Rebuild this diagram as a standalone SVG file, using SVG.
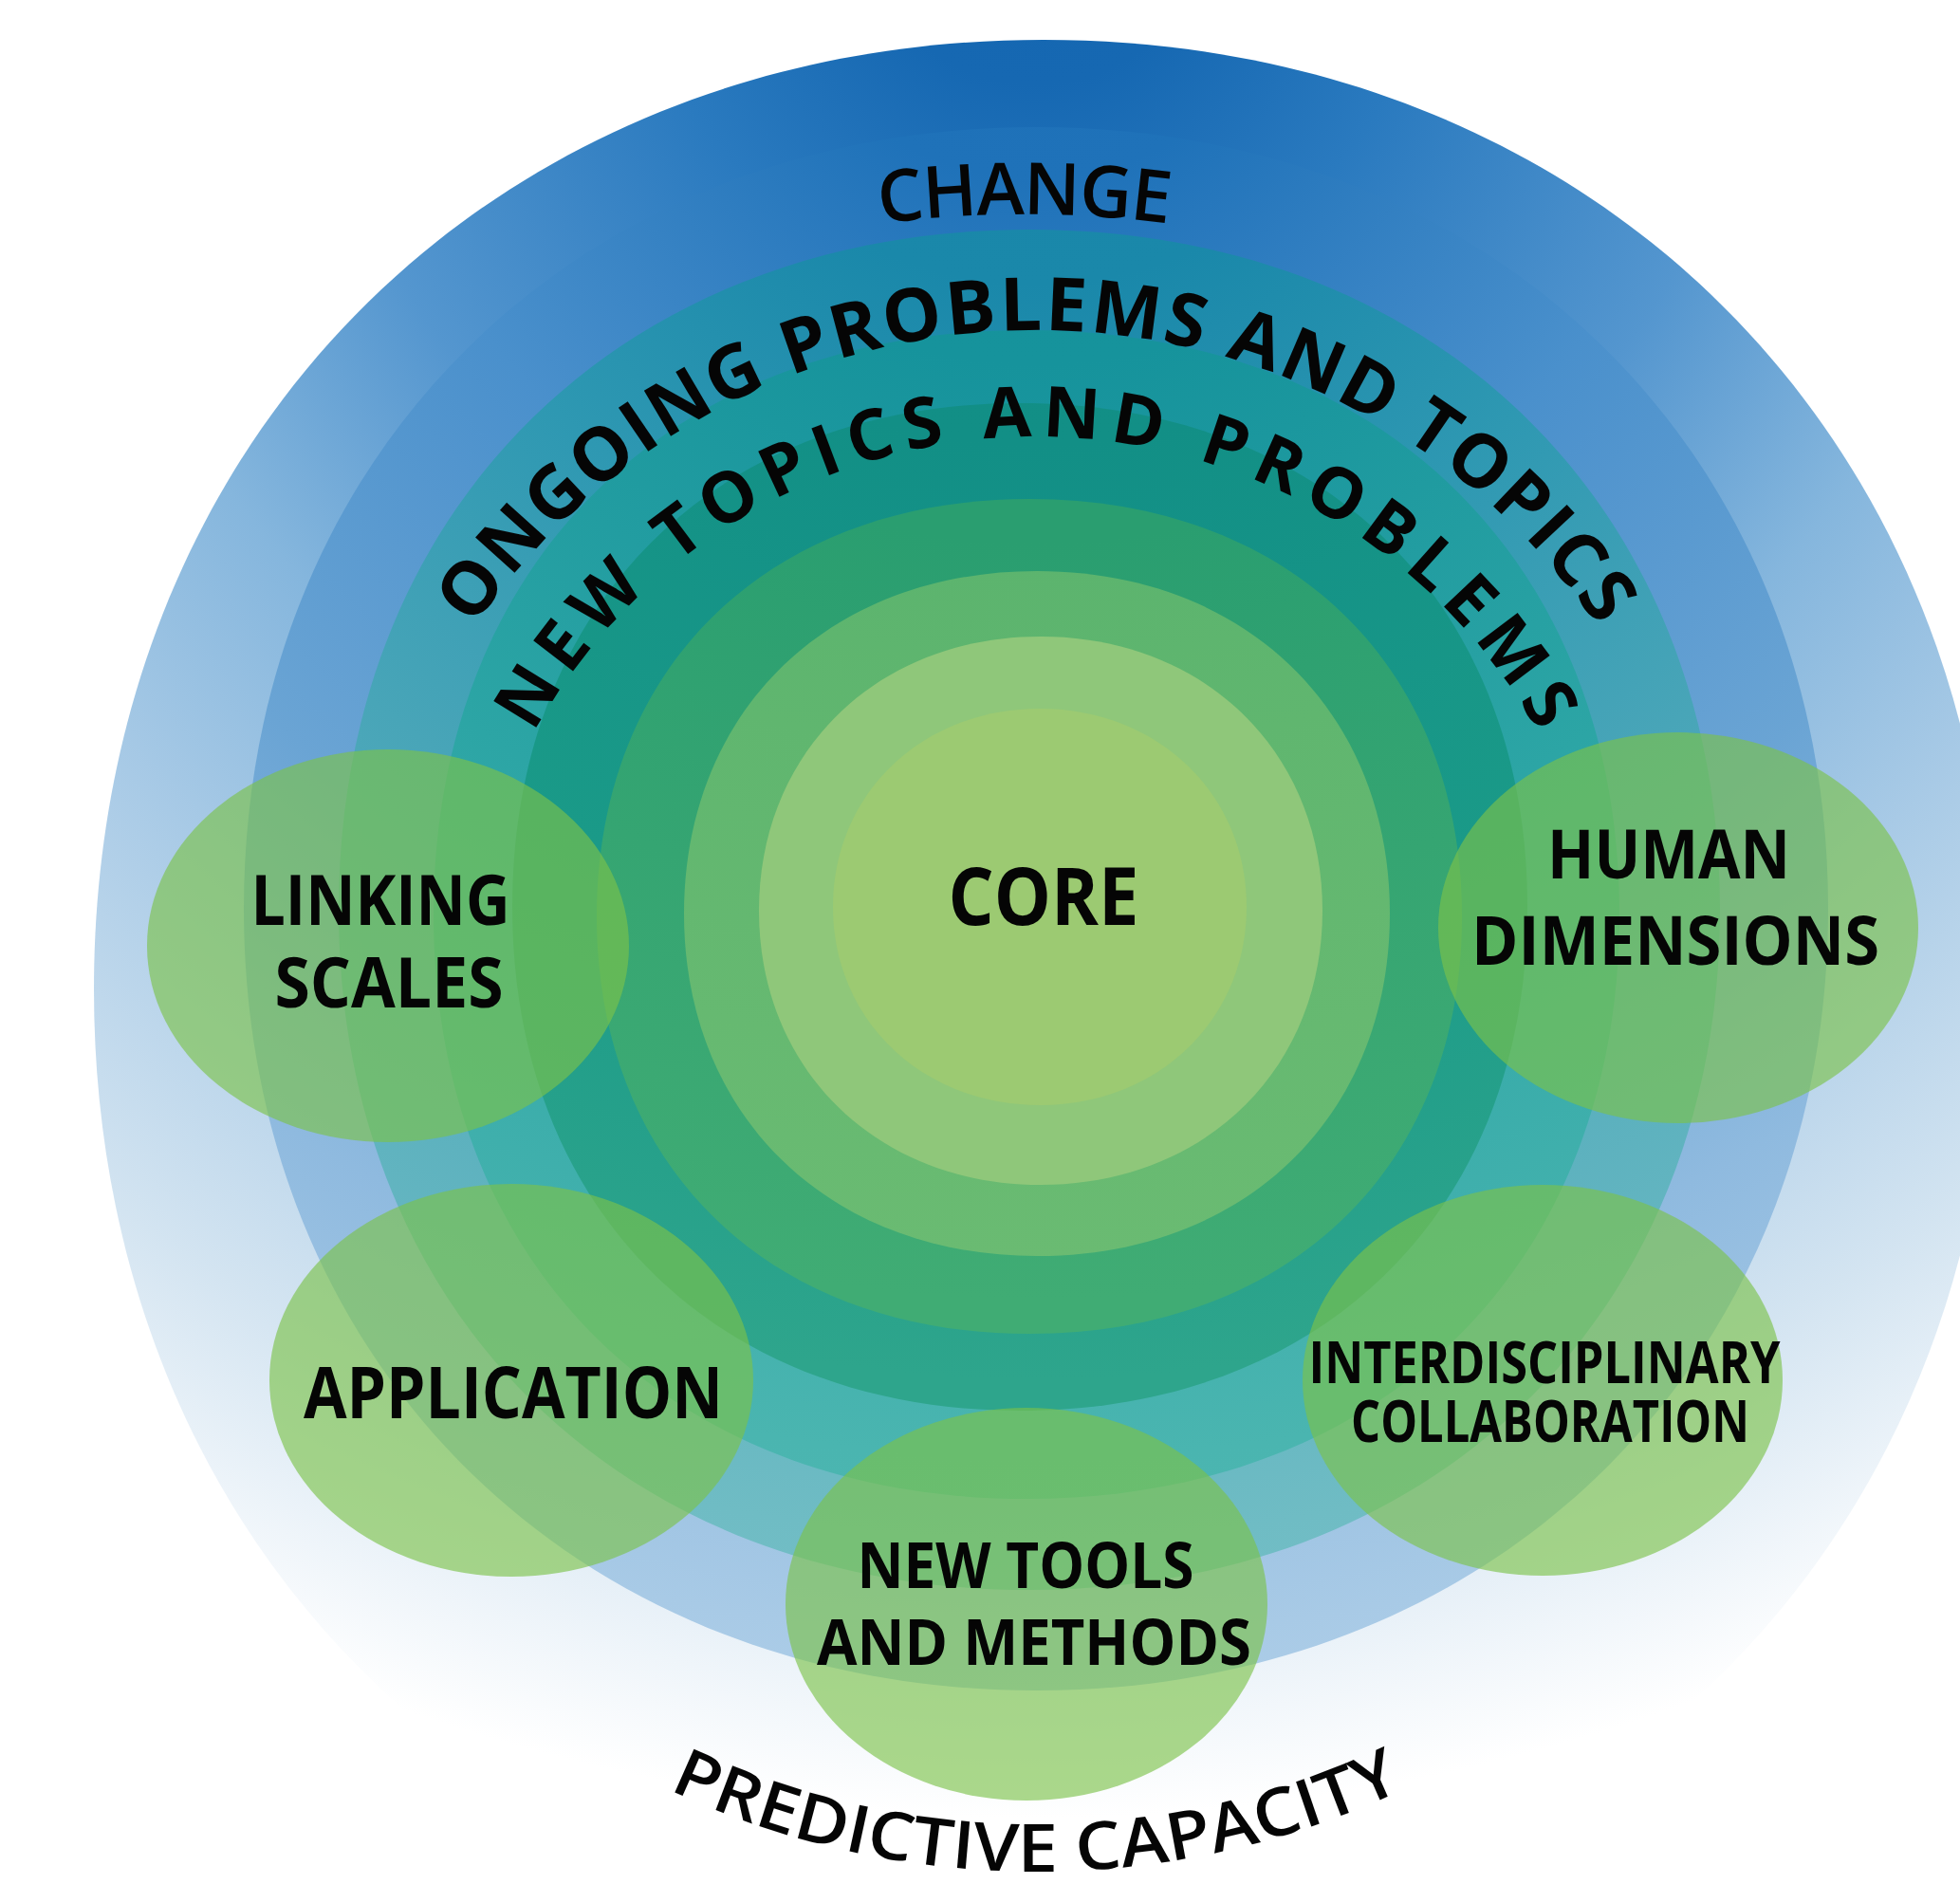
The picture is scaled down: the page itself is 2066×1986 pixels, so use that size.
<svg xmlns="http://www.w3.org/2000/svg" width="2066" height="1986" viewBox="0 0 2066 1986">
  <defs>
    <style>
      .lbl { font-family: "Open Sans", "Liberation Sans", sans-serif; font-weight: 700; fill: #050505; text-anchor: middle; }
      .arc { font-family: "Open Sans", "Liberation Sans", sans-serif; font-weight: 700; fill: #050505; text-anchor: middle; }
      .arc-thin { font-family: "Open Sans", "Liberation Sans", sans-serif; font-weight: 600; fill: #050505; text-anchor: middle; }
      .pod { fill: #7cc24a; fill-opacity: 0.64; }
    </style>

    <!-- shared light source for the ring shading: dark at the top, fading downward -->
    <radialGradient id="g0" gradientUnits="userSpaceOnUse" cx="1092" cy="-100" r="2100">
      <stop offset="0" stop-color="#1466b1"/>
      <stop offset="0.09" stop-color="#1668b2"/>
      <stop offset="0.2" stop-color="#2a7abf"/>
      <stop offset="0.37" stop-color="#5496cf"/>
      <stop offset="0.5" stop-color="#85b6dd"/>
      <stop offset="0.63" stop-color="#a8cae6"/>
      <stop offset="0.8" stop-color="#d3e4f1"/>
      <stop offset="0.9" stop-color="#eff5fa"/>
      <stop offset="0.96" stop-color="#ffffff"/>
    </radialGradient>
    <radialGradient id="g1" gradientUnits="userSpaceOnUse" cx="1092" cy="-100" r="2100">
      <stop offset="0" stop-color="#1c6fb7"/>
      <stop offset="0.137" stop-color="#1f72b9"/>
      <stop offset="0.35" stop-color="#4a90cc"/>
      <stop offset="0.56" stop-color="#6aa4d4"/>
      <stop offset="0.72" stop-color="#8fbadf"/>
      <stop offset="0.87" stop-color="#a8cae6"/>
      <stop offset="1" stop-color="#b8d4ec"/>
    </radialGradient>
    <radialGradient id="g2" gradientUnits="userSpaceOnUse" cx="1092" cy="-100" r="2100">
      <stop offset="0" stop-color="#1885a8"/>
      <stop offset="0.19" stop-color="#1a88aa"/>
      <stop offset="0.35" stop-color="#2e98b2"/>
      <stop offset="0.52" stop-color="#48a5b8"/>
      <stop offset="0.82" stop-color="#6fbcc4"/>
      <stop offset="1" stop-color="#80c4cc"/>
    </radialGradient>
    <radialGradient id="g3" gradientUnits="userSpaceOnUse" cx="1092" cy="-100" r="2100">
      <stop offset="0" stop-color="#15909a"/>
      <stop offset="0.23" stop-color="#16939c"/>
      <stop offset="0.5" stop-color="#2ca5a5"/>
      <stop offset="0.78" stop-color="#4ab5b0"/>
      <stop offset="1" stop-color="#55bab4"/>
    </radialGradient>
    <radialGradient id="g4" gradientUnits="userSpaceOnUse" cx="1092" cy="-100" r="2100">
      <stop offset="0" stop-color="#118c84"/>
      <stop offset="0.27" stop-color="#128f86"/>
      <stop offset="0.52" stop-color="#1a9a88"/>
      <stop offset="0.74" stop-color="#2ea58c"/>
    </radialGradient>
    <radialGradient id="g5" gradientUnits="userSpaceOnUse" cx="1092" cy="-100" r="2100">
      <stop offset="0.32" stop-color="#2a9e70"/>
      <stop offset="0.7" stop-color="#40ac74"/>
    </radialGradient>
    <radialGradient id="g6" gradientUnits="userSpaceOnUse" cx="1092" cy="-100" r="2100">
      <stop offset="0.33" stop-color="#5cb46e"/>
      <stop offset="0.68" stop-color="#6abb72"/>
    </radialGradient>

    <!-- baselines for the curved ring titles -->
    <path id="arcChange" d="M680,294.6 A1200,1200 0 0 1 1480,294.6"/>
    <path id="arcOngoing" d="M375,1065 A717,717 0 0 1 1809,1065"/>
    <path id="arcNew" d="M487,1065 A605,605 0 0 1 1697,1065"/>
    <path id="arcPredict" d="M184,1065 A908,908 0 0 0 2000,1065"/>
  </defs>

  <rect width="2066" height="1986" fill="#ffffff"/>

  <!-- concentric bands, outermost first -->
  <g id="ring-change">
    <path fill="url(#g0)" d="M99,1043 C99,462.4 519.4,42 1100,42 C1680.6,42 2101,462.4 2101,1043 C2101,1623.6 1680.6,2044 1100,2044 C519.4,2044 99,1623.6 99,1043 Z"/>
    <path fill="url(#g1)" d="M257,958 C257,480.1 607.7,134 1092,134 C1576.3,134 1927,480.1 1927,958 C1927,1435.9 1576.3,1782 1092,1782 C607.7,1782 257,1435.9 257,958 Z"/>
  </g>
  <g id="ring-ongoing">
    <path fill="url(#g2)" d="M357,959 C357,536 655.5,242 1085,242 C1514.5,242 1813,536 1813,959 C1813,1382 1514.5,1676 1085,1676 C655.5,1676 357,1382 357,959 Z"/>
    <path fill="url(#g3)" d="M457,964 C457,594.4 707,348 1082,348 C1457,348 1707,594.4 1707,964 C1707,1333.6 1457,1580 1082,1580 C707,1580 457,1333.6 457,964 Z"/>
  </g>
  <g id="ring-new">
    <path fill="url(#g4)" d="M540,956 C540,637.4 754,425 1075,425 C1396,425 1610,637.4 1610,956 C1610,1274.6 1396,1487 1075,1487 C754,1487 540,1274.6 540,956 Z"/>
  </g>
  <g id="ring-inner">
    <path fill="url(#g5)" d="M629,966 C629,702 811.4,526 1085,526 C1358.6,526 1541,702 1541,966 C1541,1230 1358.6,1406 1085,1406 C811.4,1406 629,1230 629,966 Z"/>
    <path fill="url(#g6)" d="M721,963 C721,750 873.5,602 1093,602 C1312.5,602 1465,750 1465,963 C1465,1176 1312.5,1324 1093,1324 C873.5,1324 721,1176 721,963 Z"/>
    <path fill="#8fc77a" d="M800,960 C800,792.4 924.7,671 1097,671 C1269.3,671 1394,792.4 1394,960 C1394,1127.6 1269.3,1249 1097,1249 C924.7,1249 800,1127.6 800,960 Z"/>
  </g>

  <g id="node-core">
    <path fill="#9cca72" d="M878,956 C878,836.9 971.7,747 1096,747 C1220.3,747 1314,836.9 1314,956 C1314,1075.1 1220.3,1165 1096,1165 C971.7,1165 878,1075.1 878,956 Z"/>
    <text class="lbl" x="1100" y="975" font-size="84" textLength="201" lengthAdjust="spacingAndGlyphs">CORE</text>
  </g>

  <!-- curved ring titles -->
  <g id="ring-titles">
    <text class="arc-thin" font-size="76"><textPath href="#arcChange" startOffset="50%" textLength="305">CHANGE</textPath></text>
    <text class="arc" font-size="78"><textPath href="#arcOngoing" startOffset="50%" textLength="1395">ONGOING PROBLEMS AND TOPICS</textPath></text>
    <text class="arc" font-size="74"><textPath href="#arcNew" startOffset="50%" textLength="1290">NEW TOPICS AND PROBLEMS</textPath></text>
    <text class="arc-thin" font-size="70" font-weight="400"><textPath href="#arcPredict" startOffset="50%" textLength="800" lengthAdjust="spacingAndGlyphs">PREDICTIVE CAPACITY</textPath></text>
  </g>

  <!-- translucent theme pods -->
  <g id="node-linking-scales">
    <ellipse class="pod" cx="409" cy="997" rx="254" ry="207"/>
    <text class="lbl" x="401" y="975" font-size="74" textLength="273" lengthAdjust="spacingAndGlyphs">LINKING</text>
    <text class="lbl" x="410" y="1062" font-size="74" textLength="241" lengthAdjust="spacingAndGlyphs">SCALES</text>
  </g>
  <g id="node-human-dimensions">
    <ellipse class="pod" cx="1769" cy="978" rx="253" ry="206"/>
    <text class="lbl" x="1759" y="926" font-size="72" textLength="256" lengthAdjust="spacingAndGlyphs">HUMAN</text>
    <text class="lbl" x="1766" y="1017" font-size="72" textLength="430" lengthAdjust="spacingAndGlyphs">DIMENSIONS</text>
  </g>
  <g id="node-application">
    <ellipse class="pod" cx="539" cy="1455" rx="255" ry="207"/>
    <text class="lbl" x="541" y="1495" font-size="76" textLength="442" lengthAdjust="spacingAndGlyphs">APPLICATION</text>
  </g>
  <g id="node-interdisciplinary-collaboration">
    <ellipse class="pod" cx="1626" cy="1455" rx="253" ry="206"/>
    <text class="lbl" x="1628" y="1458" font-size="60" textLength="497" lengthAdjust="spacingAndGlyphs">INTERDISCIPLINARY</text>
    <text class="lbl" x="1634" y="1520" font-size="60" textLength="420" lengthAdjust="spacingAndGlyphs">COLLABORATION</text>
  </g>
  <g id="node-new-tools">
    <ellipse class="pod" cx="1082" cy="1691" rx="254" ry="207"/>
    <text class="lbl" x="1081" y="1674" font-size="66" textLength="355" lengthAdjust="spacingAndGlyphs">NEW TOOLS</text>
    <text class="lbl" x="1090" y="1755" font-size="66" textLength="458" lengthAdjust="spacingAndGlyphs">AND METHODS</text>
  </g>
</svg>
